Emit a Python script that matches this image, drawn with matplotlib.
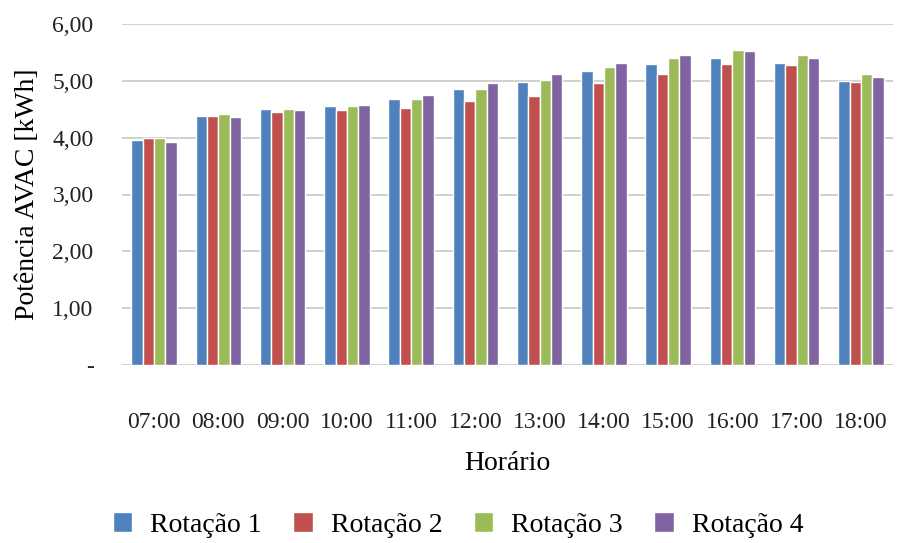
import matplotlib.pyplot as plt
import numpy as np

plt.rcParams['font.family'] = ['Liberation Serif', 'DejaVu Serif']

# Dados
horarios = ['07:00', '08:00', '09:00', '10:00', '11:00', '12:00',
            '13:00', '14:00', '15:00', '16:00', '17:00', '18:00']
rotacao1 = [3.96, 4.39, 4.50, 4.55, 4.68, 4.86, 4.98, 5.18, 5.29, 5.40, 5.32, 5.00]
rotacao2 = [3.99, 4.39, 4.46, 4.48, 4.52, 4.64, 4.73, 4.96, 5.12, 5.29, 5.27, 4.98]
rotacao3 = [3.99, 4.41, 4.50, 4.55, 4.68, 4.86, 5.02, 5.25, 5.40, 5.54, 5.45, 5.12]
rotacao4 = [3.92, 4.37, 4.48, 4.57, 4.75, 4.96, 5.12, 5.32, 5.45, 5.52, 5.40, 5.07]

series = [rotacao1, rotacao2, rotacao3, rotacao4]
nomes = ['Rotação 1', 'Rotação 2', 'Rotação 3', 'Rotação 4']
cores = ['#4F81BD', '#C0504D', '#9BBB59', '#8064A2']

fig = plt.figure(figsize=(8.98, 5.43), dpi=100)
ax = fig.add_axes([122 / 898, 1 - 365 / 543, (893 - 122) / 898, (365 - 24) / 543])

x = np.arange(len(horarios))
passo = 0.177
for i, (vals, nome, cor) in enumerate(zip(series, nomes, cores)):
    ax.bar(x + (i - 1.5) * passo, vals, width=passo, color=cor,
           edgecolor='white', linewidth=1.0, label=nome, zorder=3)

# Eixos
ax.set_xlim(-0.5, len(horarios) - 0.5)
ax.set_ylim(0, 6)
ax.set_yticks(np.arange(0, 7, 1))
ax.set_yticklabels(['-'] + [f'{v:.2f}'.replace('.', ',') for v in range(1, 7)])
ax.set_xticks(x)
ax.set_xticklabels(horarios)
ax.grid(axis='y', color='#C8C8C8', linewidth=1.2, zorder=0)
for s in ax.spines.values():
    s.set_visible(False)
ax.tick_params(axis='both', length=0, labelsize=17, colors='#222222')
ax.tick_params(axis='x', pad=33.5)
ax.tick_params(axis='y', pad=20.5)

ax.set_ylabel('Potência AVAC [kWh]', fontsize=20, labelpad=9)
ax.set_xlabel('Horário', fontsize=20, labelpad=13)

fig.legend(loc='lower center', ncol=4, frameon=False,
           prop={'family': 'Liberation Serif', 'size': 20},
           bbox_to_anchor=(0.51, -0.036), handlelength=0.7, handleheight=0.7,
           columnspacing=1.13, handletextpad=0.65)

fig.savefig('out.png', dpi=100)
